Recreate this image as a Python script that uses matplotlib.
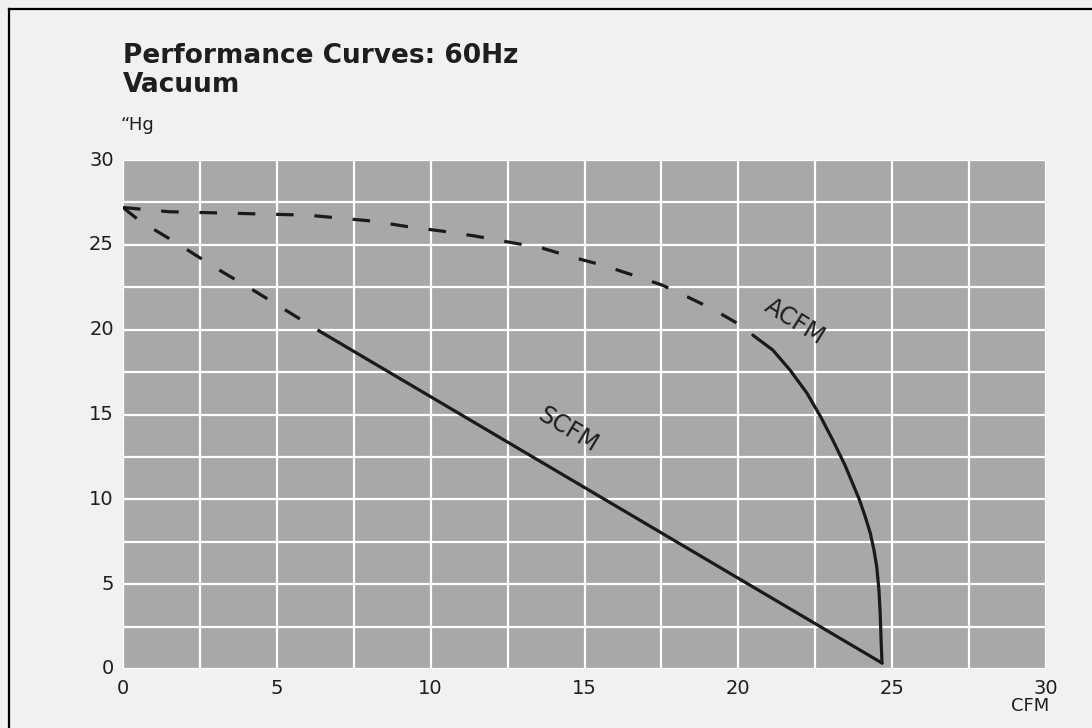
import numpy as np
import matplotlib
matplotlib.use("Agg")
import matplotlib.pyplot as plt
from matplotlib.lines import Line2D

# ACFM curve (dashed part, then solid part)
acfm_dash_x = [0.0, 1.5, 3.8, 6.0, 8.1, 9.33, 10.37, 11.44, 12.51, 13.62, 14.59,
               15.57, 16.57, 17.52, 18.36, 19.17, 19.95, 20.47]
acfm_dash_y = [27.2, 26.95, 26.85, 26.75, 26.4, 26.05, 25.81, 25.52, 25.17, 24.81, 24.28,
               23.81, 23.22, 22.63, 21.92, 21.21, 20.39, 19.68]
acfm_solid_x = [20.47, 21.12, 21.68, 22.23, 22.68, 23.07, 23.47, 23.70, 23.93, 24.12,
                24.29, 24.41, 24.5, 24.57, 24.61, 24.64, 24.67]
acfm_solid_y = [19.68, 18.8, 17.62, 16.26, 14.85, 13.49, 12.0, 11.0, 10.0, 9.0,
                8.0, 7.0, 6.0, 4.66, 3.3, 1.7, 0.35]

# SCFM curve
scfm_dash_x = [0.0, 0.55, 1.75, 3.05, 4.35, 5.6, 6.4]
scfm_dash_y = [27.2, 26.4, 25.1, 23.6, 22.2, 20.8, 19.9]
scfm_solid_x = [6.4, 24.67]
scfm_solid_y = [19.9, 0.35]

ticks = [0, 5, 10, 15, 20, 25, 30]

fig = plt.figure(figsize=(10.92, 7.28), dpi=100)
fig.patch.set_facecolor("#f1f1f1")
ax = fig.add_axes([123/1092, 1 - 669/728, (1046-123)/1092, (669-160)/728])
ax.set_facecolor("#a8a8a8")

ax.set_xlim(0, 30)
ax.set_ylim(0, 30)
ax.set_xticks(np.arange(0, 30.1, 2.5))
ax.set_yticks(np.arange(0, 30.1, 2.5))
ax.grid(True, color="white", lw=1.6)
ax.set_axisbelow(True)
ax.tick_params(length=0)
ax.set_xticklabels([])
ax.set_yticklabels([])
for s in ax.spines.values():
    s.set_visible(False)

txt = "#1e1e1e"
fam = "DejaVu Sans"
for t in ticks:
    ax.text(t, -1.15, str(t), ha="center", va="center", fontsize=14, color=txt, family=fam)
    ax.text(-0.3, t, str(t), ha="right", va="center", fontsize=14, color=txt, family=fam)
ax.text(29.5, -2.2, "CFM", ha="center", va="center", fontsize=13, color=txt, family=fam)

lw = 2.3
ax.plot(acfm_dash_x, acfm_dash_y, color="#1a1a1a", lw=lw, linestyle=(0, (5.5, 6.5)))
ax.plot(acfm_solid_x, acfm_solid_y, color="#1a1a1a", lw=lw, solid_capstyle="round",
        solid_joinstyle="round")
ax.plot(scfm_dash_x, scfm_dash_y, color="#1a1a1a", lw=lw, linestyle=(0, (5.5, 6.5)))
ax.plot(scfm_solid_x, scfm_solid_y, color="#1a1a1a", lw=lw, solid_capstyle="round")

ax.text(21.84, 20.45, "ACFM", rotation=-32, ha="center", va="center", fontsize=17,
        color=txt, family=fam)
ax.text(14.46, 14.08, "SCFM", rotation=-31, ha="center", va="center", fontsize=17,
        color=txt, family=fam)

fig.text(123/1092, 1 - 63/728, "Performance Curves: 60Hz", fontsize=19, fontweight="bold",
         color=txt, family=fam, va="baseline", ha="left")
fig.text(123/1092, 1 - 92/728, "Vacuum", fontsize=19, fontweight="bold",
         color=txt, family=fam, va="baseline", ha="left")
fig.text(121/1092, 1 - 130/728, "\u201cHg", fontsize=13, color=txt,
         family=fam, va="baseline", ha="left")

# scan border (top and left only)
fig.add_artist(Line2D([9/1092, 1], [1 - 9/728, 1 - 9/728], color="black", lw=1.6,
                      transform=fig.transFigure))
fig.add_artist(Line2D([9/1092, 9/1092], [0, 1 - 9/728], color="black", lw=1.6,
                      transform=fig.transFigure))

fig.savefig("out.png", dpi=100, facecolor=fig.get_facecolor())
